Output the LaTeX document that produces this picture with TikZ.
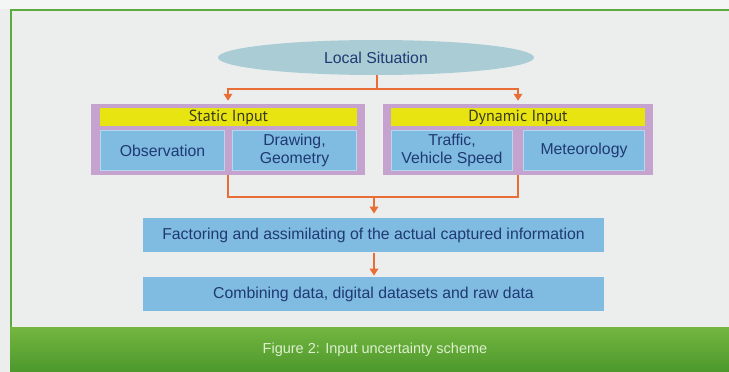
\documentclass[tikz,border=0pt]{standalone}
\usepackage{fontspec}
\setmainfont{Liberation Sans}
\newfontfamily\hdfont{PT Sans}
\usetikzlibrary{shapes.geometric,arrows.meta}
\definecolor{bgc}{HTML}{ECEEEE}
\definecolor{framec}{HTML}{5DAA3E}
\definecolor{ellc}{HTML}{A9CCD5}
\definecolor{orc}{HTML}{E96E35}
\definecolor{purc}{HTML}{C6A2CF}
\definecolor{yelc}{HTML}{E8E412}
\definecolor{bluc}{HTML}{80BBE2}
\definecolor{blub}{HTML}{B4D8EE}
\definecolor{navc}{HTML}{1F3A72}
\definecolor{hdc}{HTML}{3A3A1C}
\definecolor{bandtop}{HTML}{74B640}
\definecolor{bandbot}{HTML}{4C982C}
\definecolor{capc}{HTML}{DDEFCF}
\tikzset{
  txt/.style={font=\fontsize{15.8}{18}\selectfont, text=navc, align=center, inner sep=0pt},
  grp/.style={fill=purc, draw=none, inner sep=0pt},
  hdbar/.style={fill=yelc, draw=none, inner sep=0pt, font=\hdfont\fontsize{16}{17}\selectfont, text=hdc},
  bluebox/.style={txt, fill=bluc, draw=blub, line width=0.8pt},
  conn/.style={draw=orc, line width=2.4pt},
  arr/.style={conn, -{Triangle[width=8.5pt,length=7pt]}}
}
\begin{document}
\begin{tikzpicture}[x=1pt,y=-1pt]
\useasboundingbox (0,0) rectangle (729,372);
\clip (0,0) rectangle (729,372);
\fill[bgc] (0,0) rectangle (729,372);
\fill[white!40!bgc] (0,0) rectangle (729,9);
% frame
\draw[framec, line width=2pt] (11,327) -- (11,9.5) -- (740,9.5);
% green band
\shade[top color=bandtop, bottom color=bandbot] (10,327) rectangle (729,372);
\node[font=\fontsize{14.5}{16}\selectfont, text=capc, inner sep=0pt] (cap) at (375,350) {Figure 2: Input uncertainty scheme};
% ellipse
\node[ellipse, fill=ellc, txt, minimum width=316pt, minimum height=35pt] (ls) at (376,57.5) {Local Situation};
% groups
\node[grp, minimum width=274pt, minimum height=71pt] (sg) at (228,139.5) {};
\node[grp, minimum width=270pt, minimum height=71pt] (dg) at (518,139.5) {};
\node[hdbar, minimum width=257pt, minimum height=18pt] (sy) at (228.5,117) {Static Input};
\node[hdbar, minimum width=254pt, minimum height=18pt] (dy) at (518,117) {Dynamic Input};
\node[bluebox, minimum width=124pt, minimum height=40pt] (obs) at (162.5,150.5) {Observation};
\node[bluebox, minimum width=124pt, minimum height=40pt] (drw) at (294.5,150.5) {Drawing,\\Geometry};
\node[bluebox, minimum width=121pt, minimum height=40pt] (trf) at (452,150.5) {Traffic,\\Vehicle Speed};
\node[bluebox, minimum width=121pt, minimum height=40pt] (met) at (584,150.5) {Meteorology};
% bottom boxes
\node[bluebox, draw=none, minimum width=461pt, minimum height=34pt] (fac) at (373.5,235) {Factoring and assimilating of the actual captured information};
\node[bluebox, draw=none, minimum width=461pt, minimum height=34pt] (cmb) at (373.5,294) {Combining data, digital datasets and raw data};
% connectors
\coordinate (j1) at (377,89);
\coordinate (j2) at (374,197);
\draw[conn] (ls.south -| j1) -- (j1);
\draw[arr, shorten >=3pt] (j1) -| (sg.north);
\draw[arr, shorten >=3pt] (j1) -| (dg.north);
\draw[conn] (sg.south) |- (j2) -| (dg.south);
\draw[arr, shorten >=4pt] (j2) -- (fac.north -| j2);
\draw[arr, shorten >=1pt, shorten <=1pt] (fac.south -| j2) -- (cmb.north -| j2);
\end{tikzpicture}
\end{document}
